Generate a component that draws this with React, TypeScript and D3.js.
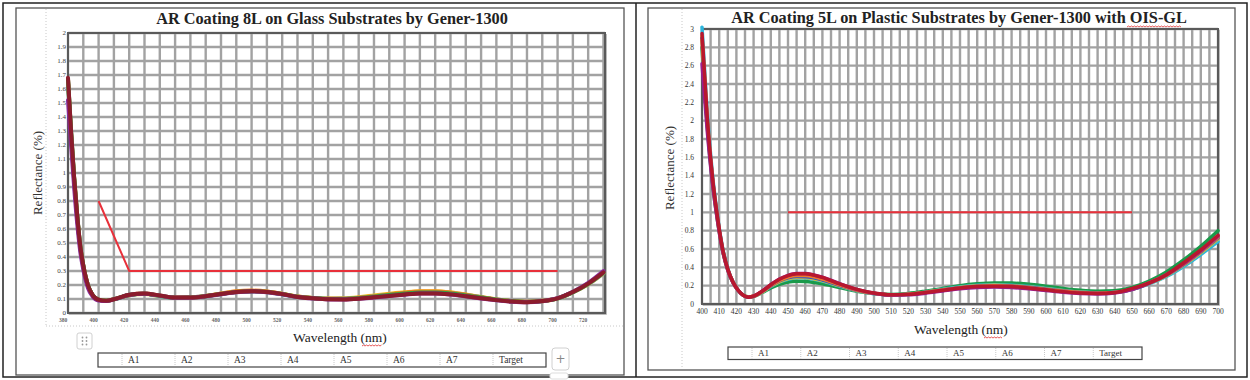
import React from 'react';
import * as d3 from 'd3';

// ---------- Data: Glass (8L) ----------
const GLASS_WL = [380,382,384,386,388,390,393,396,400,405,410,420,430,440,450,460,470,480,490,500,510,520,530,540,550,560,570,580,590,600,610,620,630,640,650,660,670,680,690,700,710,720,730];
const GLASS_A1 = [1.64,1.27,0.95,0.69,0.47,0.33,0.195,0.128,0.094,0.087,0.097,0.128,0.137,0.122,0.108,0.11,0.121,0.137,0.152,0.157,0.151,0.135,0.117,0.107,0.101,0.102,0.109,0.12,0.131,0.142,0.15,0.15,0.142,0.127,0.11,0.095,0.084,0.078,0.085,0.104,0.148,0.207,0.285];
const GLASS_A2 = [1.65,1.28,0.96,0.69,0.475,0.335,0.198,0.129,0.094,0.087,0.097,0.127,0.136,0.121,0.107,0.109,0.121,0.138,0.154,0.158,0.152,0.136,0.118,0.108,0.103,0.105,0.113,0.125,0.137,0.148,0.156,0.156,0.148,0.132,0.114,0.097,0.085,0.078,0.084,0.103,0.147,0.205,0.283];
const GLASS_A3 = [1.66,1.29,0.96,0.695,0.477,0.337,0.199,0.129,0.094,0.087,0.097,0.128,0.137,0.122,0.108,0.109,0.12,0.136,0.151,0.156,0.15,0.134,0.116,0.106,0.1,0.101,0.108,0.119,0.13,0.141,0.149,0.15,0.143,0.129,0.112,0.096,0.085,0.079,0.086,0.105,0.149,0.208,0.287];
const GLASS_A4 = [1.67,1.29,0.965,0.697,0.478,0.338,0.2,0.13,0.095,0.088,0.098,0.129,0.139,0.124,0.11,0.111,0.122,0.139,0.155,0.16,0.154,0.137,0.118,0.107,0.101,0.102,0.109,0.12,0.132,0.145,0.153,0.153,0.145,0.13,0.113,0.097,0.086,0.08,0.087,0.106,0.15,0.21,0.29];
const GLASS_A5 = [1.67,1.3,0.97,0.7,0.48,0.34,0.2,0.13,0.095,0.088,0.098,0.129,0.138,0.123,0.109,0.11,0.12,0.135,0.15,0.155,0.15,0.135,0.116,0.106,0.1,0.1,0.106,0.117,0.128,0.139,0.147,0.147,0.14,0.126,0.11,0.095,0.084,0.078,0.085,0.104,0.149,0.209,0.288];
const GLASS_A6 = [1.52,1.2,0.9,0.64,0.44,0.31,0.18,0.12,0.09,0.086,0.097,0.128,0.138,0.124,0.109,0.109,0.119,0.134,0.149,0.154,0.149,0.134,0.115,0.104,0.097,0.096,0.101,0.111,0.121,0.131,0.139,0.139,0.132,0.119,0.104,0.091,0.081,0.076,0.084,0.106,0.152,0.215,0.3];
const GLASS_A7 = [1.68,1.3,0.97,0.7,0.48,0.34,0.2,0.13,0.095,0.088,0.098,0.13,0.14,0.125,0.11,0.11,0.12,0.135,0.15,0.155,0.15,0.135,0.115,0.105,0.098,0.097,0.102,0.112,0.122,0.132,0.14,0.14,0.133,0.12,0.105,0.092,0.082,0.077,0.085,0.105,0.15,0.21,0.29];
const GLASS_TARGET_WL = [400, 420, 700];
const GLASS_TARGET_R = [0.8, 0.3, 0.3];
const GLASS_X_TICKS = [380,400,420,440,460,480,500,520,540,560,580,600,620,640,660,680,700,720];
const GLASS_Y_TICKS = [0,0.1,0.2,0.3,0.4,0.5,0.6,0.7,0.8,0.9,1,1.1,1.2,1.3,1.4,1.5,1.6,1.7,1.8,1.9,2];

// ---------- Data: Plastic (5L) ----------
const PLASTIC_WL = [400,403,406,409,412,415,418,421,424,427,430,435,440,445,450,455,460,465,470,480,490,500,510,520,530,540,550,560,570,580,590,600,610,620,630,640,650,660,670,680,690,700];
const PLASTIC_A1 = [3.02,2.1,1.43,0.96,0.61,0.385,0.24,0.15,0.095,0.075,0.083,0.13,0.19,0.24,0.27,0.283,0.283,0.27,0.25,0.195,0.145,0.112,0.1,0.107,0.13,0.16,0.185,0.205,0.21,0.205,0.19,0.17,0.148,0.13,0.122,0.128,0.16,0.22,0.3,0.41,0.54,0.68];
const PLASTIC_A2 = [2.92,2.03,1.39,0.94,0.6,0.38,0.24,0.15,0.095,0.076,0.084,0.132,0.195,0.245,0.278,0.29,0.288,0.275,0.255,0.2,0.148,0.114,0.1,0.107,0.128,0.155,0.18,0.198,0.205,0.2,0.185,0.165,0.145,0.128,0.12,0.126,0.16,0.225,0.31,0.425,0.56,0.71];
const PLASTIC_A3 = [2.9,2.0,1.38,0.94,0.6,0.38,0.24,0.15,0.095,0.075,0.084,0.135,0.2,0.252,0.286,0.3,0.298,0.285,0.262,0.205,0.15,0.115,0.1,0.106,0.127,0.154,0.178,0.195,0.2,0.196,0.182,0.162,0.142,0.126,0.119,0.126,0.16,0.228,0.315,0.43,0.57,0.72];
const PLASTIC_A4 = [2.8,1.95,1.34,0.91,0.58,0.37,0.235,0.15,0.097,0.078,0.085,0.125,0.175,0.215,0.24,0.248,0.245,0.235,0.22,0.18,0.14,0.115,0.105,0.115,0.14,0.17,0.2,0.22,0.23,0.228,0.215,0.195,0.17,0.15,0.14,0.145,0.18,0.25,0.35,0.48,0.63,0.8];
const PLASTIC_A5 = [2.88,2.0,1.37,0.93,0.59,0.375,0.238,0.15,0.096,0.076,0.085,0.137,0.203,0.258,0.295,0.312,0.31,0.296,0.272,0.21,0.153,0.116,0.1,0.106,0.126,0.152,0.176,0.192,0.198,0.193,0.178,0.158,0.139,0.124,0.118,0.126,0.162,0.23,0.318,0.435,0.575,0.73];
const PLASTIC_A6 = [2.62,1.9,1.33,0.91,0.58,0.37,0.235,0.148,0.094,0.075,0.086,0.142,0.212,0.272,0.312,0.332,0.332,0.317,0.292,0.222,0.16,0.118,0.098,0.1,0.118,0.142,0.165,0.18,0.185,0.18,0.166,0.147,0.128,0.115,0.11,0.12,0.158,0.228,0.318,0.44,0.58,0.74];
const PLASTIC_A7 = [2.95,2.05,1.4,0.95,0.6,0.38,0.24,0.15,0.095,0.075,0.085,0.14,0.21,0.27,0.31,0.33,0.33,0.315,0.29,0.22,0.16,0.12,0.1,0.105,0.125,0.15,0.175,0.19,0.195,0.19,0.175,0.155,0.135,0.12,0.115,0.125,0.17,0.23,0.32,0.45,0.59,0.75];
const PLASTIC_TARGET_WL = [450, 650];
const PLASTIC_TARGET_R = [1, 1];
const PLASTIC_X_TICKS = d3.range(400, 701, 10);
const PLASTIC_Y_TICKS = [0,0.2,0.4,0.6,0.8,1,1.2,1.4,1.6,1.8,2,2.2,2.4,2.6,2.8,3];

const LEGEND_NAMES = ['A1','A2','A3','A4','A5','A6','A7','Target'];

const GLASS_COLORS = ['#2f6fd0','#f0c020','#20c0e0','#f07c20','#30a040','#8a2b9a','#8b1c2c'];
const PLASTIC_COLORS = ['#1a9a4a','#2cb5dc','#e6c522','#3256c8','#ee7a2a','#9a1e8e','#b8182e'];

const SERIF = '"Liberation Serif", "Times New Roman", serif';

type ChartCfg = {
  title: string;
  titleX: number; titleY: number;
  box: [number, number, number, number];
  dotX: number; dotBottom: number; dotY?: number;
  plot: [number, number, number, number];
  xDomain: [number, number]; yDomain: [number, number];
  xGrid: number[]; yGrid: number[];
  xTicks: number[]; yTicks: number[];
  xTickDx: number; xTickY: number; xTickSize: number; xTickColor: string; xTickWeight: string;
  yTickX: number; yTickSize: number; yTickColor: string;
  ylabX: number; ylabY: number;
  xlabX: number; xlabY: number;
  wl: number[]; series: number[][]; colors: string[]; lineW: number;
  tWl: number[]; tR: number[];
  legend: [number, number, number, number, number];
  legendFont: number;
  nmWave: [number, number, number];
  titleWave?: [number, number, number];
};

function wave(x0: number, x1: number, y: number) {
  let d = `M${x0},${y}`;
  let up = true;
  for (let x = x0 + 1.5; x <= x1; x += 1.5) {
    d += ` L${x},${up ? y - 1 : y}`;
    up = !up;
  }
  return d;
}

function Chart({ c }: { c: ChartCfg }) {
  const [px0, py0, px1, py1] = c.plot;
  const x = d3.scaleLinear().domain(c.xDomain).range([px0, px1]);
  const y = d3.scaleLinear().domain(c.yDomain).range([py1, py0]);
  const line = d3.line<number>().x((_, i) => x(c.wl[i])).y((v) => y(v)).curve(d3.curveMonotoneX);
  const tline = d3.line<number>().x((_, i) => x(c.tWl[i])).y((v) => y(v));
  const [bx0, by0, bx1, by1] = c.box;
  const [lx0, ly0, lblank, lx1, lh] = c.legend;
  const cellW = (lx1 - lx0 - lblank) / LEGEND_NAMES.length;
  const fmt = (v: number) => String(Math.round(v * 10) / 10);
  return (
    <g>
      <rect x={bx0} y={by0} width={bx1 - bx0} height={by1 - by0} fill="#fff" stroke="#555" strokeWidth={1.3} />
      <line x1={c.dotX} x2={c.dotX} y1={by0 + 1} y2={c.dotBottom} stroke="#c8c8c8" strokeDasharray="1,2" />
      {c.dotY !== undefined && (
        <line x1={c.dotX} x2={bx1 - 1} y1={c.dotY} y2={c.dotY} stroke="#c8c8c8" strokeDasharray="1,2" />
      )}
      <text x={c.titleX} y={c.titleY} textAnchor="middle" fontFamily={SERIF} fontWeight="bold" fontSize={16.3} fill="#222">{c.title}</text>
      {c.titleWave && <path d={wave(c.titleWave[0], c.titleWave[1], c.titleWave[2])} fill="none" stroke="#e03030" strokeWidth={0.8} />}
      {/* grid */}
      <rect x={px0} y={py0} width={px1 - px0} height={py1 - py0} fill="#fff" />
      {c.xGrid.map((v) => (
        <line key={'gx' + v} x1={x(v)} x2={x(v)} y1={py0} y2={py1} stroke="#a2a2a2" strokeWidth={2.4} />
      ))}
      {c.yGrid.map((v) => (
        <line key={'gy' + v} x1={px0} x2={px1} y1={y(v)} y2={y(v)} stroke="#a2a2a2" strokeWidth={2.4} />
      ))}
      <rect x={px0} y={py0} width={px1 - px0} height={py1 - py0} fill="none" stroke="#5a5a5a" strokeWidth={2} />
      <line x1={px1 + 1.5} x2={px1 + 1.5} y1={py0 + 1} y2={py1 + 1.5} stroke="#bbb" strokeWidth={1} />
      <line x1={px0 + 1} x2={px1 + 1.5} y1={py1 + 1.5} y2={py1 + 1.5} stroke="#bbb" strokeWidth={1} />
      {/* ticks */}
      {c.yTicks.map((v) => (
        <text key={'ty' + v} x={c.yTickX} y={y(v)} dy="0.35em" textAnchor="end" fontFamily={SERIF} fontSize={c.yTickSize} fill={c.yTickColor}>{fmt(v)}</text>
      ))}
      {c.xTicks.map((v) => (
        <text key={'tx' + v} x={x(v) + c.xTickDx} y={c.xTickY} dy="0.35em" textAnchor="middle" fontFamily={SERIF} fontSize={c.xTickSize} fontWeight={c.xTickWeight} fill={c.xTickColor}>{v}</text>
      ))}
      {/* series */}
      {c.series.map((s, i) => (
        <path key={'s' + i} d={line(s) || ''} fill="none" stroke={c.colors[i]} strokeWidth={c.lineW} strokeLinejoin="round" strokeLinecap="round" />
      ))}
      <path d={tline(c.tR) || ''} fill="none" stroke="#e8303a" strokeWidth={2} />
      {/* axis titles */}
      <text transform={`translate(${c.ylabX},${c.ylabY}) rotate(-90)`} textAnchor="middle" fontFamily={SERIF} fontSize={13} fill="#333">Reflectance (%)</text>
      <text x={c.xlabX} y={c.xlabY} textAnchor="middle" fontFamily={SERIF} fontSize={13.5} fill="#222">Wavelength (nm)</text>
      <path d={wave(c.nmWave[0], c.nmWave[1], c.nmWave[2])} fill="none" stroke="#e03030" strokeWidth={0.8} />
      {/* legend table */}
      <rect x={lx0} y={ly0} width={lx1 - lx0} height={lh} fill="#fff" stroke="#444" strokeWidth={1.2} />
      {LEGEND_NAMES.map((n, i) => (
        <g key={'lg' + n}>
          <line x1={lx0 + lblank + i * cellW} x2={lx0 + lblank + i * cellW} y1={ly0 + 1} y2={ly0 + lh - 1} stroke="#c8c8c8" strokeDasharray="1,1" />
          <text x={lx0 + lblank + i * cellW + 6} y={ly0 + lh / 2} dy="0.35em" fontFamily={SERIF} fontSize={c.legendFont} fill="#333">{n}</text>
        </g>
      ))}
    </g>
  );
}

const glassCfg: ChartCfg = {
  title: 'AR Coating 8L on Glass Substrates by Gener-1300',
  titleX: 332, titleY: 24,
  box: [16, 8, 624, 375],
  dotX: 46, dotBottom: 326, dotY: 326,
  plot: [68, 33, 605, 313],
  xDomain: [380, 731], yDomain: [0, 2],
  xGrid: d3.range(380, 731, 10), yGrid: GLASS_Y_TICKS,
  xTicks: GLASS_X_TICKS, yTicks: GLASS_Y_TICKS,
  xTickDx: -5, xTickY: 320, xTickSize: 5.5, xTickColor: '#666', xTickWeight: 'bold',
  yTickX: 66, yTickSize: 7, yTickColor: '#444',
  ylabX: 42, ylabY: 173,
  xlabX: 340, xlabY: 342,
  wl: GLASS_WL,
  series: [GLASS_A1, GLASS_A2, GLASS_A3, GLASS_A4, GLASS_A5, GLASS_A6, GLASS_A7],
  colors: GLASS_COLORS, lineW: 4,
  tWl: GLASS_TARGET_WL, tR: GLASS_TARGET_R,
  legend: [98, 353, 24, 546, 14],
  legendFont: 9.5,
  nmWave: [362, 382, 346],
};

const plasticCfg: ChartCfg = {
  title: 'AR Coating 5L on Plastic Substrates by Gener-1300 with OIS-GL',
  titleX: 959, titleY: 23,
  box: [648, 8, 1235, 370],
  dotX: 682, dotBottom: 369,
  plot: [702, 29, 1218, 304],
  xDomain: [400, 700], yDomain: [0, 3],
  xGrid: d3.range(400, 701, 5), yGrid: PLASTIC_Y_TICKS,
  xTicks: PLASTIC_X_TICKS, yTicks: PLASTIC_Y_TICKS,
  xTickDx: 0, xTickY: 311, xTickSize: 7.5, xTickColor: '#333', xTickWeight: 'normal',
  yTickX: 694, yTickSize: 7.5, yTickColor: '#333',
  ylabX: 674, ylabY: 168,
  xlabX: 961, xlabY: 334,
  wl: PLASTIC_WL,
  series: [PLASTIC_A4, PLASTIC_A1, PLASTIC_A2, PLASTIC_A3, PLASTIC_A5, PLASTIC_A6, PLASTIC_A7],
  colors: PLASTIC_COLORS, lineW: 3.5,
  tWl: PLASTIC_TARGET_WL, tR: PLASTIC_TARGET_R,
  legend: [728, 347, 24, 1142, 12.5],
  legendFont: 9,
  nmWave: [984, 1003, 338],
  titleWave: [1127, 1181, 27],
};

export default function App() {
  return (
    <div style={{ position: 'absolute', left: 0, top: 0 }}>
      <svg width={1250} height={380} style={{ display: 'block', background: '#fff' }}>
        <rect x={3} y={3} width={1244} height={374} fill="#fff" stroke="#222" strokeWidth={1.5} />
        <line x1={636} x2={636} y1={3} y2={377} stroke="#222" strokeWidth={1.5} />
        <Chart c={glassCfg} />
        <Chart c={plasticCfg} />
        {/* drag handle icon */}
        <rect x={77} y={333} width={15} height={16} rx={2} fill="#fff" stroke="#d0d0d0" />
        {[0, 1].map((i) => [0, 1, 2].map((j) => (
          <circle key={`d${i}${j}`} cx={82.5 + i * 4} cy={337.5 + j * 3.5} r={0.9} fill="#999" />
        )))}
        {/* plus button */}
        <rect x={552} y={348} width={17} height={22} rx={3} fill="#fff" stroke="#d0d0d0" />
        <text x={560.5} y={359} dy="0.35em" textAnchor="middle" fontFamily="DejaVu Sans, sans-serif" fontSize={12} fill="#888">+</text>
        <rect x={550} y={373} width={18} height={6} rx={2} fill="#fff" stroke="#ddd" />
      </svg>
    </div>
  );
}
